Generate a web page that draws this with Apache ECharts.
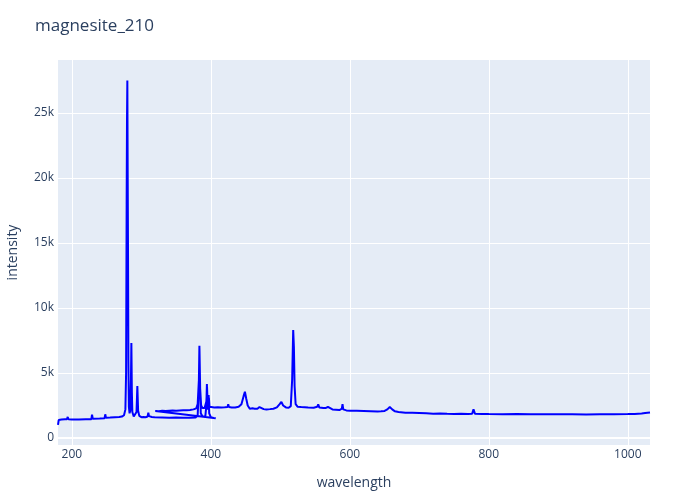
<!DOCTYPE html>
<html>
<head>
<meta charset="utf-8">
<script src="https://cdn.jsdelivr.net/npm/echarts@6/dist/echarts.min.js"></script>
<style>html,body{margin:0;padding:0;background:#fff}#chart{width:700px;height:500px}</style>
</head>
<body>
<div id="chart"></div>
<script>
// Data (drawing order; the spectrum is made of two overlapping scans)
const wavelengthA = [180,181,185,190,193,194,195,200,210,220,228,229,230,240,247,248,249,255,262,268,272,275,277,278,278.8,279.3,279.8,280.3,280.8,281.3,282,283,284,285,285.6,286.3,287,289,291,293,294.2,295.3,297,300,303,306,309,310,311,315,319,320,321,330,340,350,360,370,378,381,382.5,383.5,384.5,385.5,388,392,393.5,394.3,395,396,396.8,397.6,400,404,407];
const intensityA = [1000,1380,1420,1440,1450,1620,1440,1430,1420,1440,1450,1800,1480,1500,1520,1820,1560,1570,1600,1620,1650,1750,2200,5000,18000,24400,27500,20300,13800,6000,2400,1900,2100,4500,7300,3500,2000,1650,1700,2000,4000,2100,1700,1600,1620,1600,1650,1950,1680,1620,1600,1750,1600,1580,1560,1570,1550,1560,1580,1750,3500,7100,4000,1900,1650,1650,2500,4150,2200,2400,3300,1900,1600,1540,1510];
const wavelengthB = [320,325,330,335,340,345,350,355,360,365,370,375,379,381,382.8,383.6,384.6,386,388,391,393.5,394.5,395.3,396.3,397.2,398,400,405,410,415,420,424,425,426,430,435,440,444,447,449,451,453,456,460,463,465,467,470,472,476,480,485,490,495,499,501.5,504,508,512,515,517,518.5,519.5,520.5,522,525,530,540,548,553,554.5,556,559,560.7,562,565,568.5,570,575,580,585,588.5,589.5,590.5,595,600,610,620,630,640,645,650,654,657.5,661,665,670,680,690,700,710,720,730,740,750,760,770,776,778,780,790,800,820,840,860,880,900,920,940,960,980,1000,1010,1020,1025,1032];
const intensityB = [2080,2060,2100,2070,2090,2110,2100,2120,2140,2130,2160,2200,2280,2600,4500,6900,3800,2500,2300,2300,2800,3900,2700,2900,3100,2400,2330,2350,2370,2340,2360,2380,2600,2380,2350,2350,2400,2600,3200,3560,3000,2500,2250,2280,2250,2400,2250,2380,2250,2220,2200,2220,2250,2350,2600,2780,2500,2350,2330,2450,4500,8300,7000,4000,2600,2400,2380,2350,2330,2400,2590,2350,2330,2420,2300,2300,2400,2280,2200,2180,2150,2250,2600,2200,2120,2100,2090,2080,2060,2040,2050,2080,2200,2380,2200,2050,2000,1950,1940,1920,1900,1870,1880,1860,1850,1860,1840,1860,2200,1870,1850,1840,1830,1840,1830,1820,1820,1830,1810,1820,1830,1840,1850,1880,1920,1960];
const yTickStep = 5000;
const xTickStep = 200;

const points = [];
wavelengthA.forEach((w, i) => points.push([w, intensityA[i]]));
wavelengthB.forEach((w, i) => points.push([w, intensityB[i]]));

const txt = '#2a3f5f';
const font = '"Open Sans", sans-serif';
const chart = echarts.init(document.getElementById('chart'), null, {renderer: 'canvas'});
chart.setOption({
  animation: false,
  backgroundColor: '#ffffff',
  title: {
    text: 'magnesite_210', left: 30, top: 13,
    textStyle: {fontFamily: font, fontSize: 17, fontWeight: 'normal', color: txt}
  },
  grid: {left: 58, right: 50, top: 60, bottom: 55, show: true, backgroundColor: '#E5ECF6', borderWidth: 0,
    containLabel: false, outerBoundsMode: 'none'},
  xAxis: {
    type: 'value', min: 180, max: 1032, minInterval: xTickStep, maxInterval: xTickStep,
    name: 'wavelength', nameLocation: 'middle', nameGap: 31,
    nameTextStyle: {fontFamily: font, fontSize: 14, color: txt},
    axisLine: {show: false}, axisTick: {show: false},
    axisLabel: {fontFamily: font, fontSize: 12, color: txt, margin: 4, showMinLabel: false, showMaxLabel: false,
      formatter: v => String(v)},
    splitLine: {show: true, showMinLine: false, showMaxLine: false, lineStyle: {color: '#ffffff', width: 1}}
  },
  yAxis: {
    type: 'value', min: -540, max: 29080, minInterval: yTickStep, maxInterval: yTickStep,
    name: 'intensity', nameLocation: 'middle', nameGap: 38,
    nameTextStyle: {fontFamily: font, fontSize: 14, color: txt},
    axisLine: {show: false}, axisTick: {show: false},
    axisLabel: {fontFamily: font, fontSize: 12, color: txt, margin: 4, showMinLabel: false, showMaxLabel: false,
      formatter: v => v === 0 ? '0' : (v / 1000) + 'k'},
    splitLine: {show: true, showMinLine: false, showMaxLine: false, lineStyle: {color: '#ffffff', width: 1}}
  },
  series: [{
    type: 'line', data: points, showSymbol: false, symbol: 'none',
    lineStyle: {color: '#0000ff', width: 2}, itemStyle: {color: '#0000ff'},
    z: 3,
    markLine: {
      silent: true, symbol: 'none', label: {show: false}, z: 1,
      lineStyle: {color: '#ffffff', width: 2, type: 'solid'},
      data: [{yAxis: 0}]
    }
  }]
});
</script>
</body>
</html>
